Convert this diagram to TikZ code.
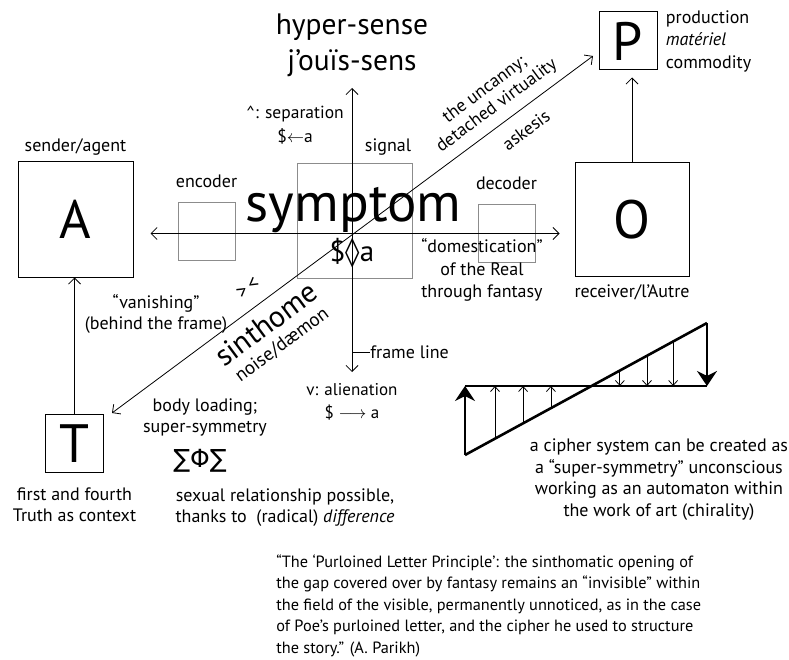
\documentclass[tikz,border=0pt]{standalone}
\usepackage{fontspec}
\setmainfont{PT Sans}
\newfontfamily\djv{DejaVu Sans}
\usetikzlibrary{positioning}
\usetikzlibrary{arrows.meta}
\usetikzlibrary{calc}
\newcommand{\fsz}[2]{\fontsize{#1}{#2}\selectfont}
\tikzset{>={Straight Barb[length=6pt,width=12pt]}}
\tikzset{letterbox/.style={draw, line width=1pt, minimum size=#1, inner sep=0pt, font=\fsz{54}{60}}}
\tikzset{graybox/.style={draw=black!45, line width=0.8pt, inner sep=0pt}}
\tikzset{lbl/.style={font=\fsz{18}{21.5}, inner sep=0pt, align=center}}
\tikzset{fat/.style={line width=2.6pt}}
\tikzset{bigarrow/.style={fat, -{Stealth[length=15pt,width=20pt]}}}
\tikzset{smallarrow/.style={line width=0.8pt, -{Straight Barb[length=5pt,width=9pt]}}}

\begin{document}
\begin{tikzpicture}[x=1pt,y=-1pt,line width=0.8pt]
\useasboundingbox (0,0) rectangle (789,660);

%%% the letter boxes
\node[letterbox=115pt] (A) at (75.5,219.5) {A};
\node[letterbox=114pt] (O) at (632,219.5) {O};
\node[letterbox=58pt] (P) at (628,41) {P};
\node[letterbox=58pt] (T) at (74.5,443.5) {T};

\node[lbl, above=6pt of A] (sender) {sender/agent};
\node[lbl, below=7pt of O] (receiver) {receiver/l'Autre};
\node[lbl, below=14pt of T] (truth) {first and fourth\\Truth as context};
\node[lbl, right=8pt of P, align=left, font=\fsz{18}{22.5}] (prod) {production\\\textit{matériel}\\commodity};

\draw[->] (T.north) -- (T.north |- A.south);
\draw[->, shorten >=7pt] (O.north) -- (O.north |- P.south);

%%% the cross in the middle
\coordinate (ctr) at (352,233.5);
\node[graybox, minimum width=115pt, minimum height=115pt] (sig) at (354.5,220.5) {};
\node[graybox, minimum width=57pt, minimum height=58pt] (enc) at (206.5,231) {};
\node[graybox, minimum width=57pt, minimum height=58pt] (dec) at (506.5,233) {};

\node[lbl, above=13pt of enc] (encoder) {encoder};
\node[lbl, above=13pt of dec] (decoder) {decoder};
\node[lbl] (signal) at (388,147) {signal};

\node[font=\fsz{55}{60}, anchor=base, inner sep=0pt] (symptom) at (353.5,222) {symptom};
\node[font=\fsz{29}{32}, inner sep=0pt] (matheme) at (352,253) {\${\djv ◊}a};

\node[font=\fsz{29.5}{36}, align=center, inner sep=0pt] (hyper) at (352,45) {hyper-sense\\j’ouïs-sens};
\node[lbl, font=\fsz{17.5}{24}] (sep) at (295,125) {\textasciicircum: separation\\\$$\leftarrow$a};
\node[lbl, font=\fsz{17}{23}] (alien) at (352,401.5) {v: alienation\\\$ $\longrightarrow$ a};
\node[lbl, anchor=west] (frame) at (370,352) {frame line};

\coordinate (vtop) at (352,88);
\coordinate (vbot) at (352,372);
\draw[<->] (vtop) -- (vbot);
\draw (frame.west -| ctr) -- (frame.west);
\draw[<->, shorten <=17pt, shorten >=15pt] (A.east |- ctr) -- (O.west |- ctr);

%%% the diagonal
\coordinate (dT) at (112,413);
\coordinate (dP) at (593,56);
\draw[<->] (dT) -- (dP);

\node[lbl, font=\fsz{18}{20}, rotate=36.6] (uncanny) at (491,98) {the uncanny;\\detached virtuality};
\node[lbl, rotate=36.6] (askesis) at (526,130) {askesis};
\node[font=\fsz{30}{34}, rotate=36.6, inner sep=0pt] (sinthome) at (266,324) {sinthome};
\node[lbl, font=\fsz{19}{22}, rotate=36.6] (noise) at (282,345) {noise/dæmon};
\node[font=\fsz{20}{24}, rotate=36.6, inner sep=0pt] (chiasm) at (248,288) {>\,<};

\node[lbl] (vanish) at (156,314) {``vanishing''\\(behind the frame)};
\node[lbl, font=\fsz{18}{22.5}] (domest) at (482,270) {``domestication''\\of the Real\\through fantasy};
\node[lbl] (body) at (205,417.5) {body loading;\\super-symmetry};
\node[font=\fsz{25}{30}, inner sep=0pt] (sigma) at (200,461) {\djv ∑Φ∑};
\node[lbl] (sexual) at (285,507.5) {sexual relationship possible,\\thanks to\ \ (radical) \textit{difference}};

%%% the cipher figure
\coordinate (zl) at (465,386);
\coordinate (zr) at (707,386);
\coordinate (zbl) at (465,455);
\coordinate (ztr) at (707,323);
\draw[fat] (zl) -- (zr);
\draw[fat] (zbl) -- (ztr);
\draw[bigarrow] (zbl) -- (zl);
\draw[bigarrow] (ztr) -- (zr);
\foreach \f in {0.124,0.240,0.355,0.640,0.752,0.860}
  \draw[smallarrow] ($(zbl)!\f!(ztr)$) -- ($(zl)!\f!(zr)$);

\node[lbl, font=\fsz{18}{21.7}] (cipher) at (659,479.5) {a cipher system can be created as\\a ``super-symmetry'' unconscious\\working as an automaton within\\the work of art (chirality)};

\node[lbl, align=left, anchor=north west, font=\fsz{16.3}{21.5}] (quote) at (276,554)
 {``The `Purloined Letter Principle': the sinthomatic opening of\\
  the gap covered over by fantasy remains an ``invisible'' within\\
  the field of the visible, permanently unnoticed, as in the case\\
  of Poe's purloined letter, and the cipher he used to structure\\
  the story.'' (A. Parikh)};

\end{tikzpicture}
\end{document}
